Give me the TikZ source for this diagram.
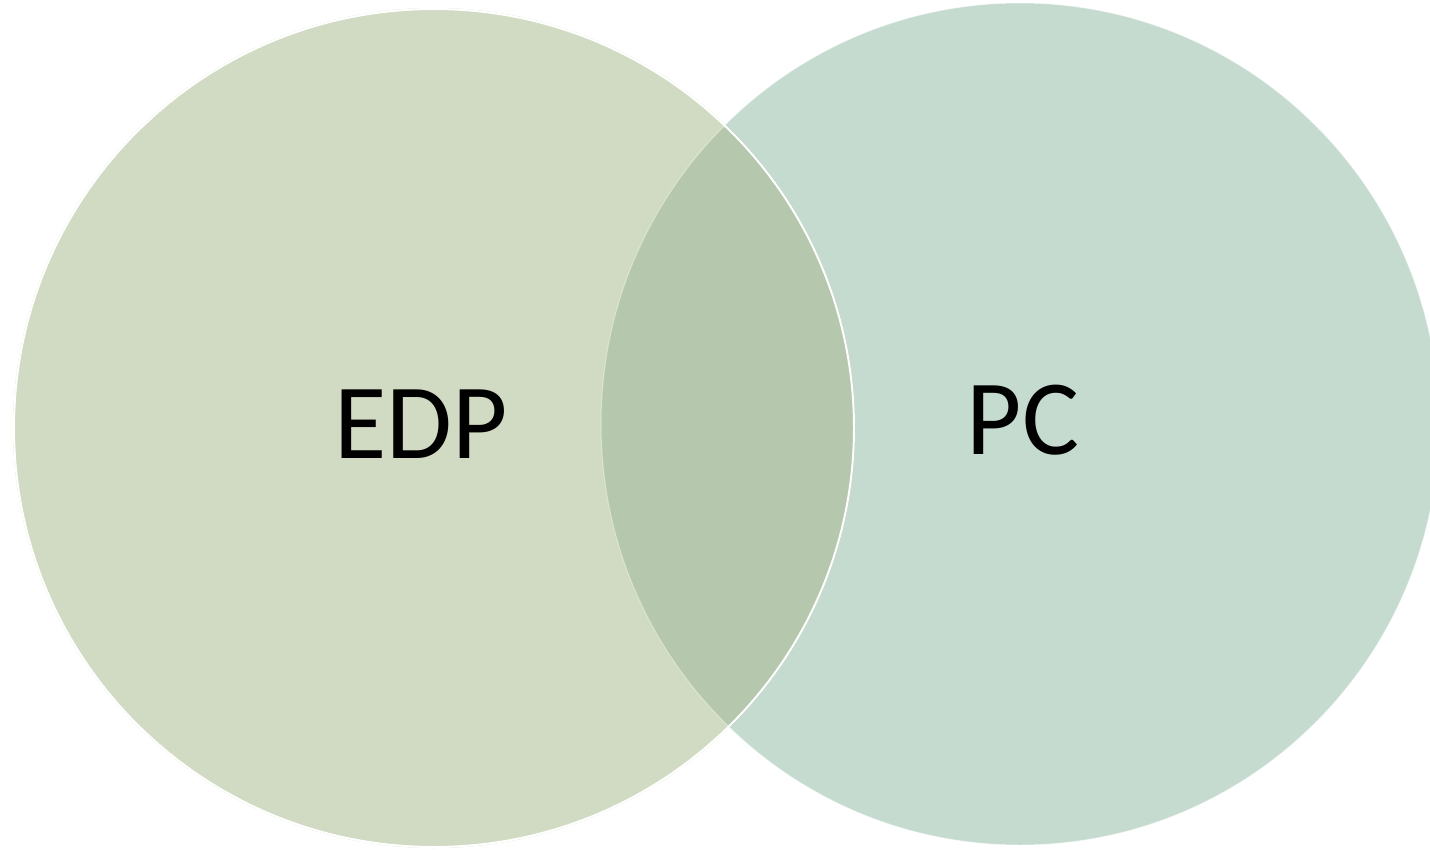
\documentclass[tikz,border=0pt]{standalone}
\usepackage{fontspec}
\setmainfont{Carlito}
\definecolor{leftc}{HTML}{D1DAC3}
\definecolor{rightc}{HTML}{C5DBD0}
\definecolor{midc}{HTML}{B5C8AD}
\begin{document}
\begin{tikzpicture}[x=1pt,y=-1pt,
  lbl/.style={font=\fontsize{107}{110}\selectfont, text=black, inner sep=0pt}]
\useasboundingbox (0,0) rectangle (1430,849);
\begin{scope}
\clip (0,0) rectangle (1430,849);
\fill[rightc] (1020,424) ellipse [x radius=419, y radius=421];
\fill[leftc] (434,428) ellipse [x radius=421, y radius=420];
\begin{scope}
\clip (1020,424) ellipse [x radius=419, y radius=421];
\fill[midc] (434,428) ellipse [x radius=421, y radius=420];
\end{scope}
\draw[white, opacity=0.4, line width=1pt] (1020,424) ellipse [x radius=419, y radius=421];
\draw[white, line width=2pt] (434,428) ellipse [x radius=420, y radius=419];
\end{scope}
\node[lbl] (edp) at (421,424) {EDP};
\node[lbl] (pc) at (1023,420) {PC};
\end{tikzpicture}
\end{document}
